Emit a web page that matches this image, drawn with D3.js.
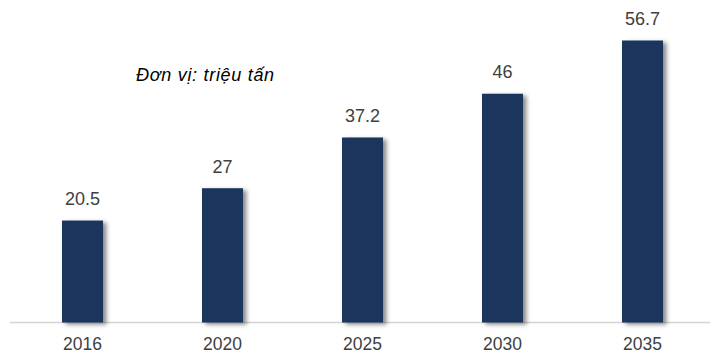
<!DOCTYPE html>
<html><head><meta charset="utf-8">
<script src="https://cdn.jsdelivr.net/npm/d3@7"></script>
<style>body{margin:0;background:#fff}svg{display:block}</style>
</head><body>
<svg id="c" width="713" height="354"></svg>
<script>
const categories = ["2016","2020","2025","2030","2035"];
const values = [20.5, 27, 37.2, 46, 56.7];
const unitLabel = "Đơn vị: triệu tấn";

const W = 713, H = 354;
const baseY = 322.5, topY = 40.5;
const svg = d3.select("#c");
const defs = svg.append("defs");
const f = defs.append("filter").attr("id","sh").attr("x","-20%").attr("y","-10%").attr("width","150%").attr("height","130%");
f.append("feDropShadow").attr("dx",3.5).attr("dy",2).attr("stdDeviation",2).attr("flood-color","#000").attr("flood-opacity",0.45);

const x = d3.scaleBand().domain(categories).range([12.5, 712.5]).paddingInner(0.707).paddingOuter(0.3535);
const y = d3.scaleLinear().domain([0, 56.7]).range([baseY, topY]);

svg.append("line").attr("x1",10).attr("x2",710).attr("y1",baseY).attr("y2",baseY)
  .attr("stroke","#d4d4d4").attr("stroke-width",1.5);

svg.selectAll("rect.bar").data(values).join("rect").attr("class","bar")
  .attr("x",(d,i)=>x(categories[i])).attr("width",x.bandwidth())
  .attr("y",d=>y(d)).attr("height",d=>baseY-y(d))
  .attr("fill","#1b365d").attr("filter","url(#sh)");

svg.selectAll("text.val").data(values).join("text").attr("class","val")
  .attr("x",(d,i)=>x(categories[i])+x.bandwidth()/2).attr("y",d=>y(d)-15.5)
  .attr("text-anchor","middle").attr("font-family","Liberation Sans, Arial, sans-serif")
  .attr("font-size",18).attr("fill","#404040").text(d=>d);

const xAxis = d3.axisBottom(x).tickSize(0).tickPadding(0);
const gx = svg.append("g").attr("transform",`translate(0,${baseY})`).call(xAxis);
gx.select(".domain").remove();
gx.selectAll("text").attr("dy",null).attr("y",27.5)
  .attr("font-family","Liberation Sans, Arial, sans-serif").attr("font-size",17.5).attr("fill","#404040");

svg.append("text").attr("x",136).attr("y",80.5).attr("font-family","Liberation Sans, Arial, sans-serif")
  .attr("font-style","italic").attr("font-size",18).attr("letter-spacing",0.7).attr("fill","#000").text(unitLabel);
</script>
</body></html>
